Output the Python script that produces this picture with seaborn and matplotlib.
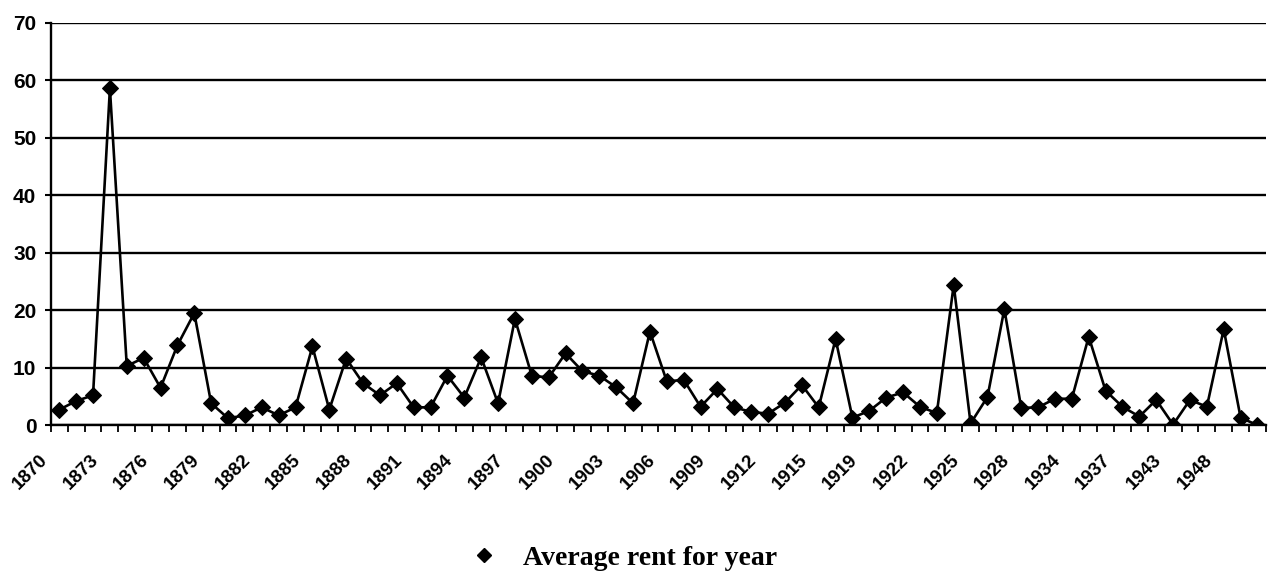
import matplotlib
matplotlib.use("Agg")
import matplotlib.pyplot as plt
from matplotlib.lines import Line2D
import matplotlib.transforms as mtransforms
import seaborn as sns
import numpy as np
import pandas as pd

years = ["1870", "1871", "1872", "1873", "1874", "1875", "1876", "1877", "1878", "1879",
         "1880", "1881", "1882", "1883", "1884", "1885", "1886", "1887", "1888", "1889",
         "1890", "1891", "1892", "1893", "1894", "1895", "1896", "1897", "1898", "1899",
         "1900", "1901", "1902", "1903", "1904", "1905", "1906", "1907", "1908", "1909",
         "1910", "1911", "1912", "1913", "1914", "1915", "1916", "1917", "1919", "1920",
         "1921", "1922", "1923", "1924", "1925", "1926", "1927", "1928", "1929", "1930",
         "1934", "1935", "1936", "1937", "1939", "1941", "1943", "1945", "1946", "1948",
         "1949", "1950"]

rent = [2.7, 4.2, 5.2, 58.6, 10.3, 11.7, 6.5, 13.9, 19.5, 3.8,
        1.2, 1.7, 3.1, 1.7, 3.1, 13.7, 2.7, 11.6, 7.3, 5.2,
        7.3, 3.1, 3.1, 8.6, 4.8, 11.8, 3.8, 18.5, 8.6, 8.3,
        12.5, 9.4, 8.6, 6.6, 3.8, 16.3, 7.6, 7.9, 3.2, 6.3,
        3.1, 2.3, 2.0, 3.9, 7.0, 3.1, 15.0, 1.3, 2.5, 4.8,
        5.7, 3.2, 2.1, 24.4, 0.3, 4.9, 20.2, 3.0, 3.1, 4.6,
        4.6, 15.4, 6.0, 3.2, 1.5, 4.4, 0.1, 4.4, 3.2, 16.7,
        1.3, 0.0]

yticks = [0, 10, 20, 30, 40, 50, 60, 70]
legend_label = "Average rent for year"

df = pd.DataFrame({"idx": np.arange(len(rent)), "year": years, "rent": rent})

sns.set_style("white")
plt.rcParams["font.family"] = ["Liberation Sans", "DejaVu Sans"]
plt.rcParams["text.color"] = "black"
plt.rcParams["xtick.color"] = "black"
plt.rcParams["ytick.color"] = "black"

fig = plt.figure(figsize=(12.71, 5.73), dpi=100)
ax = fig.add_axes([0.040, 0.258, 0.956, 0.702])

for v in yticks:
    ax.axhline(v, color="black", lw=1.7, zorder=1)

sns.lineplot(data=df, x="idx", y="rent", ax=ax, color="black", lw=1.9,
             marker="D", markersize=8, markeredgecolor="black", zorder=3)

n = len(rent)
ax.set_xlim(-0.5, n - 0.5)
ax.set_ylim(0, 70)
ax.set_yticks(yticks)
ax.set_yticklabels([str(v) for v in yticks], fontsize=15, fontweight="bold")

lab_idx = list(range(0, n, 3))
ax.set_xticks(lab_idx)
ax.set_xticklabels([years[i] for i in lab_idx], rotation=45, ha="right",
                   rotation_mode="anchor", fontsize=13.5, fontweight="bold")
ax.set_xticks(np.arange(-0.5, n, 1), minor=True)
ax.tick_params(axis="x", which="major", length=0, pad=19)
ax.tick_params(axis="x", which="minor", length=5, width=1.3, direction="out", bottom=True)
ax.tick_params(axis="y", length=4.5, width=1.5, direction="out", left=True, pad=6)

offset = mtransforms.ScaledTranslation(-0.20, 0.0, fig.dpi_scale_trans)
for lbl in ax.get_xticklabels():
    lbl.set_transform(lbl.get_transform() + offset)

ax.set_xlabel("")
ax.set_ylabel("")
for s in ["top", "right"]:
    ax.spines[s].set_visible(False)
ax.spines["left"].set_color("black")
ax.spines["left"].set_linewidth(1.7)
ax.spines["bottom"].set_color("black")
ax.spines["bottom"].set_linewidth(1.7)

handle = Line2D([], [], marker="D", color="black", linestyle="none", markersize=7)
fig.legend([handle], [legend_label], loc="center", bbox_to_anchor=(0.485, 0.026),
           frameon=False, handletextpad=0.4, borderpad=0,
           prop={"family": "Liberation Serif", "weight": "bold", "size": 20})

fig.savefig("out.png", dpi=100)
